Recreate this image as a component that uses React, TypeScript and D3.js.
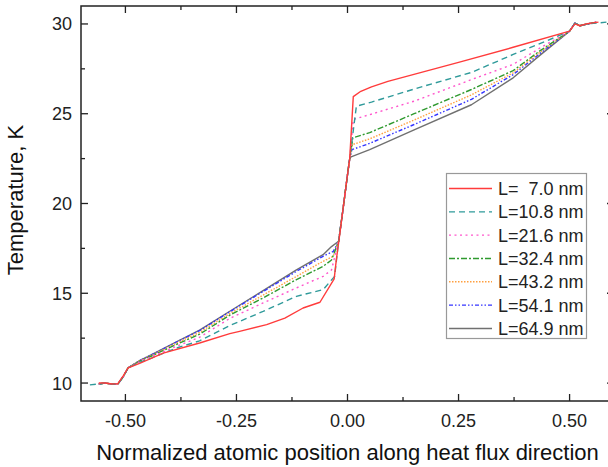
import React from "react";
import * as d3 from "d3";

// ---------- data ----------
const seriesLabels = ["L=  7.0 nm", "L=10.8 nm", "L=21.6 nm", "L=32.4 nm", "L=43.2 nm", "L=54.1 nm", "L=64.9 nm"];

const redX = [-0.56, -0.545, -0.53, -0.517, -0.505, -0.494, -0.468, -0.415, -0.333, -0.265, -0.243, -0.182, -0.141, -0.1, -0.062, -0.03, -0.025, -0.02, -0.01, 0.0, 0.005, 0.013, 0.03, 0.054, 0.091, 0.25, 0.373, 0.5, 0.512, 0.523, 0.54, 0.565];
const redT = [10.0, 10.0, 9.95, 9.97, 10.4, 10.84, 11.1, 11.67, 12.23, 12.75, 12.88, 13.25, 13.62, 14.18, 14.5, 15.8, 16.9, 17.8, 19.7, 21.6, 22.5, 25.95, 26.25, 26.5, 26.8, 27.86, 28.7, 29.6, 30.0, 29.9, 30.02, 30.1];

const tealX = [-0.58, -0.56, -0.545, -0.53, -0.517, -0.505, -0.494, -0.468, -0.44, -0.385, -0.333, -0.265, -0.19, -0.115, -0.055, -0.029, -0.02, -0.01, 0.0, 0.005, 0.02, 0.054, 0.159, 0.279, 0.373, 0.433, 0.5, 0.512, 0.523, 0.54, 0.583];
const tealT = [9.9, 9.95, 10.0, 9.93, 9.94, 10.35, 10.84, 11.15, 11.4, 11.95, 12.35, 13.2, 13.99, 14.83, 15.2, 15.94, 17.9, 19.7, 21.6, 22.5, 25.42, 25.65, 26.44, 27.3, 28.3, 28.9, 29.6, 30.05, 29.9, 30.0, 30.1];

const pinkX = [-0.56, -0.545, -0.53, -0.517, -0.505, -0.494, -0.468, -0.44, -0.385, -0.333, -0.265, -0.19, -0.115, -0.055, -0.036, -0.02, -0.01, 0.0, 0.005, 0.013, 0.05, 0.15, 0.279, 0.373, 0.433, 0.5, 0.512, 0.523, 0.54, 0.56];
const pinkT = [9.95, 10.0, 9.93, 9.94, 10.35, 10.84, 11.2, 11.48, 12.05, 12.55, 13.6, 14.46, 15.3, 15.94, 16.3, 17.9, 19.7, 21.6, 22.5, 24.68, 24.95, 25.7, 26.9, 27.75, 28.65, 29.6, 30.05, 29.9, 30.0, 30.1];

const greenX = [-0.56, -0.545, -0.53, -0.517, -0.505, -0.494, -0.468, -0.44, -0.385, -0.333, -0.265, -0.19, -0.115, -0.055, -0.036, -0.02, -0.01, 0.0, 0.005, 0.012, 0.05, 0.15, 0.279, 0.373, 0.433, 0.5, 0.512, 0.523, 0.54, 0.56];
const greenT = [9.95, 10.0, 9.93, 9.94, 10.35, 10.84, 11.22, 11.52, 12.15, 12.72, 13.78, 14.74, 15.76, 16.5, 16.85, 17.9, 19.7, 21.6, 22.5, 23.66, 23.95, 25.0, 26.35, 27.4, 28.5, 29.6, 30.05, 29.9, 30.0, 30.1];

const orangeX = [-0.56, -0.545, -0.53, -0.517, -0.505, -0.494, -0.468, -0.44, -0.385, -0.333, -0.265, -0.19, -0.115, -0.055, -0.032, -0.02, -0.01, 0.0, 0.005, 0.011, 0.05, 0.15, 0.279, 0.373, 0.433, 0.5, 0.512, 0.523, 0.54, 0.56];
const orangeT = [9.95, 10.0, 9.93, 9.94, 10.35, 10.84, 11.24, 11.55, 12.22, 12.82, 13.87, 14.9, 15.94, 16.78, 17.06, 17.9, 19.7, 21.6, 22.5, 23.28, 23.6, 24.65, 26.05, 27.28, 28.42, 29.6, 30.05, 29.9, 30.0, 30.1];

const blueX = [-0.56, -0.545, -0.53, -0.517, -0.505, -0.494, -0.468, -0.44, -0.385, -0.333, -0.265, -0.19, -0.115, -0.055, -0.032, -0.02, -0.01, 0.0, 0.005, 0.01, 0.05, 0.15, 0.279, 0.373, 0.433, 0.5, 0.512, 0.523, 0.54, 0.56];
const blueT = [9.95, 10.0, 9.93, 9.94, 10.35, 10.84, 11.25, 11.58, 12.28, 12.92, 13.97, 15.1, 16.22, 17.06, 17.33, 17.9, 19.7, 21.6, 22.5, 23.0, 23.35, 24.4, 25.8, 27.18, 28.35, 29.6, 30.05, 29.9, 30.0, 30.1];

const grayX = [-0.56, -0.545, -0.53, -0.517, -0.505, -0.494, -0.468, -0.44, -0.385, -0.333, -0.265, -0.19, -0.115, -0.055, -0.036, -0.02, -0.01, 0.0, 0.005, 0.008, 0.05, 0.15, 0.279, 0.373, 0.433, 0.5, 0.512, 0.523, 0.54, 0.56];
const grayT = [9.95, 10.0, 9.93, 9.94, 10.35, 10.84, 11.25, 11.6, 12.3, 12.95, 14.0, 15.15, 16.3, 17.15, 17.6, 17.9, 19.7, 21.6, 22.5, 22.6, 23.0, 24.1, 25.5, 27.0, 28.25, 29.6, 30.05, 29.9, 30.0, 30.1];

const xMajorTicks = [-0.5, -0.25, 0, 0.25, 0.5];
const xTickLabels = ["-0.50", "-0.25", "0.00", "0.25", "0.50"];
const xMinorTicks = [-0.375, -0.125, 0.125, 0.375];
const yMajorTicks = [10, 15, 20, 25, 30];
const yTickLabels = ["10", "15", "20", "25", "30"];
const yMinorTicks = [12.5, 17.5, 22.5, 27.5];

// ---------- styles ----------
const seriesStyles = [
  { color: "#ff3b3b", dash: "" },
  { color: "#2f9a9a", dash: "6,4" },
  { color: "#ff55cc", dash: "2,3.5" },
  { color: "#2f9a2f", dash: "6,2,2,2" },
  { color: "#ffa040", dash: "1.5,1.5" },
  { color: "#3535ff", dash: "4,2,1.5,2,1.5,2" },
  { color: "#707070", dash: "" },
];

const W = 608;
const H = 467;
const left = 81, right = 614, top = 6, bottom = 401;
const FONT = "Arial, 'Liberation Sans', Helvetica, sans-serif";

export default function App() {
  const x = d3.scaleLinear().domain([-0.6, 0.6]).range([left, right]);
  const y = d3.scaleLinear().domain([9, 31]).range([bottom, top]);
  const line = d3.line<[number, number]>().x((d) => x(d[0])).y((d) => y(d[1]));

  const xs = [redX, tealX, pinkX, greenX, orangeX, blueX, grayX];
  const ts = [redT, tealT, pinkT, greenT, orangeT, blueT, grayT];
  const series = xs.map((arr, i) => arr.map((v, j) => [v, ts[i][j]] as [number, number]));

  const majorLen = 7, minorLen = 4;
  const axisColor = "#222";

  const legX = 446.5, legY = 173.5, legW = 140, legH = 165, rowH = 23.33, row0 = 188.5;

  const drawOrder = [6, 5, 4, 3, 2, 1, 0];

  return (
    <svg width={W} height={H} style={{ position: "absolute", left: 0, top: 0, background: "#fff" }} fontFamily={FONT}>
      <rect x={0} y={0} width={W} height={H} fill="#fff" />
      {/* curves */}
      {drawOrder.map((i) => (
        <path key={i} d={line(series[i]) || ""} fill="none" stroke={seriesStyles[i].color}
          strokeWidth={1.4} strokeDasharray={seriesStyles[i].dash || undefined} strokeLinejoin="round" />
      ))}
      {/* frame */}
      <rect x={left} y={top} width={right - left} height={bottom - top} fill="none" stroke={axisColor} strokeWidth={1.5} />
      {/* x ticks bottom & top */}
      {xMajorTicks.map((t) => (
        <g key={"xm" + t}>
          <line x1={x(t)} x2={x(t)} y1={bottom} y2={bottom - majorLen} stroke={axisColor} strokeWidth={1.3} />
          <line x1={x(t)} x2={x(t)} y1={top} y2={top + majorLen} stroke={axisColor} strokeWidth={1.3} />
        </g>
      ))}
      {xMinorTicks.map((t) => (
        <g key={"xn" + t}>
          <line x1={x(t)} x2={x(t)} y1={bottom} y2={bottom - minorLen} stroke={axisColor} strokeWidth={1.3} />
          <line x1={x(t)} x2={x(t)} y1={top} y2={top + minorLen} stroke={axisColor} strokeWidth={1.3} />
        </g>
      ))}
      {xMajorTicks.map((t, i) => (
        <text key={"xl" + t} x={x(t)} y={426.5} textAnchor="middle" fontSize={18} fill="#222">{xTickLabels[i]}</text>
      ))}
      {/* y ticks left & right */}
      {yMajorTicks.map((t) => (
        <g key={"ym" + t}>
          <line x1={left} x2={left + majorLen} y1={y(t)} y2={y(t)} stroke={axisColor} strokeWidth={1.3} />
          <line x1={right} x2={right - majorLen} y1={y(t)} y2={y(t)} stroke={axisColor} strokeWidth={1.3} />
        </g>
      ))}
      {yMinorTicks.map((t) => (
        <g key={"yn" + t}>
          <line x1={left} x2={left + minorLen} y1={y(t)} y2={y(t)} stroke={axisColor} strokeWidth={1.3} />
          <line x1={right} x2={right - minorLen} y1={y(t)} y2={y(t)} stroke={axisColor} strokeWidth={1.3} />
        </g>
      ))}
      {yMajorTicks.map((t, i) => (
        <text key={"yl" + t} x={72} y={y(t) + 6.5} textAnchor="end" fontSize={18} fill="#222">{yTickLabels[i]}</text>
      ))}
      {/* axis titles */}
      <text x={(left + right) / 2} y={460} textAnchor="middle" fontSize={22} fill="#111">
        Normalized atomic position along heat flux direction
      </text>
      <text transform={`translate(23,200) rotate(-90)`} textAnchor="middle" fontSize={22} fill="#111">
        Temperature, K
      </text>
      {/* legend */}
      <rect x={legX} y={legY} width={legW} height={legH} fill="#fff" stroke="#999" strokeWidth={1.2} />
      {seriesLabels.map((lab, i) => {
        const ry = row0 + i * rowH;
        return (
          <g key={lab}>
            <line x1={449} x2={492} y1={ry} y2={ry} stroke={seriesStyles[i].color} strokeWidth={1.4}
              strokeDasharray={seriesStyles[i].dash || undefined} />
            <text x={498} y={ry + 6.5} fontSize={18} fill="#222" style={{ whiteSpace: "pre" }} xmlSpace="preserve">{lab}</text>
          </g>
        );
      })}
    </svg>
  );
}
